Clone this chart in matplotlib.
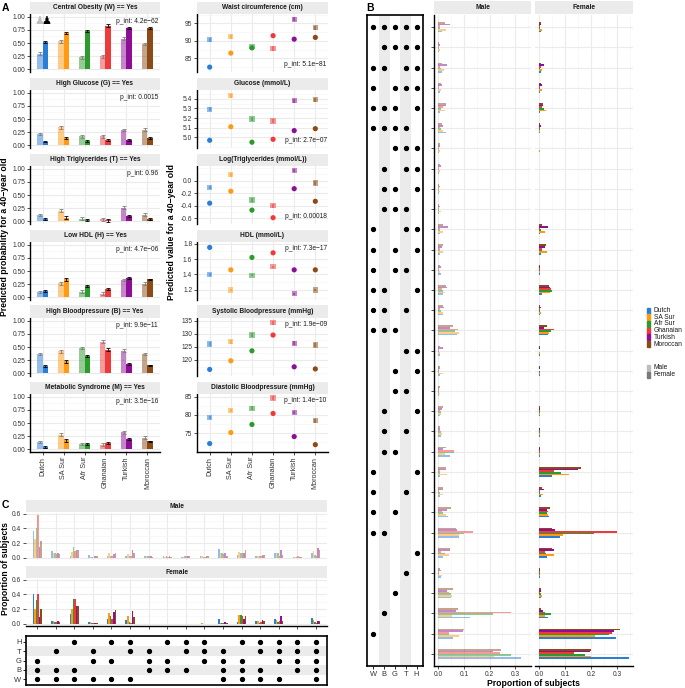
import numpy as np
import matplotlib.pyplot as plt
from matplotlib.patches import Rectangle
from matplotlib.ticker import AutoMinorLocator, MultipleLocator

plt.rcParams['font.family'] = ['Liberation Sans', 'DejaVu Sans']

W, H = 685, 688

groups = ['Dutch', 'SA Sur', 'Afr Sur', 'Ghanaian', 'Turkish', 'Moroccan']
colors = ['#2a7fd4', '#ff9a12', '#2c9a2c', '#ee3a3a', '#8e0f96', '#8b4a16']
components = ['W', 'B', 'G', 'T', 'H']

# ---- panel A, binary outcomes (predicted probability) ----
bin_titles = ['Central Obesity (W) == Yes', 'High Glucose (G) == Yes',
              'High Triglycerides (T) == Yes', 'Low HDL (H) == Yes',
              'High Bloodpressure (B) == Yes', 'Metabolic Syndrome (M) == Yes']
bin_pint = ['4.2e\u221262', '0.0015', '0.96', '4.7e\u221206', '9.9e\u221211', '3.5e\u221216']
bin_male = [[0.30, 0.53, 0.23, 0.25, 0.58, 0.48],
            [0.22, 0.34, 0.17, 0.17, 0.29, 0.30],
            [0.12, 0.20, 0.05, 0.04, 0.26, 0.13],
            [0.11, 0.27, 0.11, 0.07, 0.33, 0.26],
            [0.37, 0.42, 0.48, 0.60, 0.43, 0.37],
            [0.14, 0.28, 0.10, 0.09, 0.32, 0.22]]
bin_female = [[0.52, 0.69, 0.72, 0.83, 0.78, 0.78],
              [0.07, 0.14, 0.08, 0.10, 0.11, 0.14],
              [0.04, 0.07, 0.02, 0.02, 0.10, 0.04],
              [0.12, 0.34, 0.21, 0.16, 0.36, 0.34],
              [0.14, 0.23, 0.33, 0.45, 0.18, 0.15],
              [0.05, 0.17, 0.11, 0.12, 0.19, 0.15]]
bin_err_male = [0.02, 0.03, 0.025, 0.03, 0.025, 0.025]
bin_err_female = [0.015, 0.025, 0.02, 0.025, 0.02, 0.015]

# ---- panel A, continuous outcomes (predicted value) ----
cont_titles = ['Waist circumference (cm)', 'Glucose (mmol/L)', 'Log(Triglycerides (mmol/L))',
               'HDL (mmol/L)', 'Systolic Bloodpressure (mmHg)', 'Diastolic Bloodpressure (mmHg)']
cont_pint = ['5.1e\u221281', '2.7e\u221207', '0.00018', '7.3e\u221217', '1.9e\u221209', '1.4e\u221210']
cont_male = [[90.3, 91.2, 88.3, 87.8, 96.2, 93.8],
             [5.29, 5.43, 5.19, 5.17, 5.38, 5.39],
             [-0.11, 0.09, -0.31, -0.40, 0.16, -0.04],
             [1.40, 1.20, 1.39, 1.50, 1.15, 1.20],
             [126.1, 127.0, 129.5, 134.2, 126.4, 125.7],
             [79.3, 81.2, 81.8, 84.6, 80.7, 78.4]]
cont_female = [[82.5, 86.5, 88.0, 91.5, 90.5, 91.0],
               [4.97, 5.11, 4.95, 4.98, 5.07, 5.09],
               [-0.36, -0.17, -0.47, -0.59, -0.13, -0.33],
               [1.75, 1.46, 1.62, 1.68, 1.46, 1.46],
               [116.4, 119.7, 123.5, 129.5, 117.4, 116.6],
               [72.2, 75.2, 77.4, 80.4, 74.1, 71.9]]
cont_err_male = [0.6, 0.02, 0.03, 0.015, 0.8, 0.5]
cont_err_female = [0.3, 0.01, 0.015, 0.01, 0.4, 0.3]
cont_ticks = [[85, 90, 95], [5.0, 5.1, 5.2, 5.3, 5.4], [-0.6, -0.4, -0.2, 0.0],
              [1.2, 1.4, 1.6, 1.8], [120, 125, 130, 135], [75, 80, 85]]
cont_ylim = [(81.1, 97.7), (4.89, 5.49), (-0.69, 0.23), (1.07, 1.82),
             (113.9, 136.0), (69.9, 85.7)]

# ---- panel B, all combinations ----
b_combos = ['WBGTH', 'BGTH', 'WBTH', 'WGTH', 'WBGH', 'WBGT', 'GTH', 'BTH', 'BGH', 'BGT',
            'WTH', 'WGH', 'WGT', 'WBH', 'WBT', 'WBG', 'TH', 'GH', 'GT', 'BH', 'BT', 'BG',
            'WH', 'WT', 'WG', 'WB', 'H', 'T', 'G', 'B', 'W', '']
b_male = [[0.014, 0.030, 0.005, 0.005, 0.044, 0.027],
          [0.003, 0.005, 0.002, 0.002, 0.006, 0.004],
          [0.014, 0.022, 0.010, 0.005, 0.035, 0.015],
          [0.005, 0.012, 0.004, 0.003, 0.015, 0.012],
          [0.008, 0.027, 0.012, 0.020, 0.030, 0.030],
          [0.028, 0.020, 0.012, 0.008, 0.020, 0.015],
          [0.003, 0.005, 0.002, 0.002, 0.007, 0.006],
          [0.003, 0.005, 0.004, 0.002, 0.010, 0.008],
          [0.004, 0.005, 0.003, 0.002, 0.006, 0.004],
          [0.004, 0.010, 0.003, 0.002, 0.005, 0.004],
          [0.005, 0.020, 0.008, 0.005, 0.037, 0.020],
          [0.005, 0.020, 0.005, 0.005, 0.015, 0.020],
          [0.010, 0.006, 0.004, 0.003, 0.012, 0.008],
          [0.018, 0.025, 0.020, 0.013, 0.035, 0.030],
          [0.020, 0.017, 0.012, 0.006, 0.024, 0.018],
          [0.074, 0.079, 0.064, 0.077, 0.047, 0.058],
          [0.006, 0.005, 0.003, 0.003, 0.018, 0.008],
          [0.005, 0.017, 0.004, 0.003, 0.008, 0.006],
          [0.004, 0.006, 0.002, 0.002, 0.004, 0.005],
          [0.008, 0.012, 0.012, 0.008, 0.015, 0.018],
          [0.010, 0.013, 0.010, 0.006, 0.008, 0.005],
          [0.044, 0.026, 0.063, 0.060, 0.020, 0.031],
          [0.006, 0.032, 0.008, 0.006, 0.030, 0.030],
          [0.007, 0.020, 0.006, 0.004, 0.018, 0.018],
          [0.037, 0.031, 0.017, 0.014, 0.033, 0.048],
          [0.079, 0.080, 0.100, 0.136, 0.073, 0.070],
          [0.020, 0.040, 0.025, 0.010, 0.045, 0.045],
          [0.010, 0.013, 0.004, 0.003, 0.009, 0.007],
          [0.050, 0.052, 0.048, 0.040, 0.035, 0.057],
          [0.125, 0.055, 0.215, 0.283, 0.070, 0.075],
          [0.057, 0.080, 0.040, 0.040, 0.097, 0.100],
          [0.323, 0.216, 0.283, 0.242, 0.212, 0.243]]
b_female = [[0.006, 0.012, 0.004, 0.003, 0.008, 0.008],
            [0.000, 0.000, 0.000, 0.000, 0.000, 0.000],
            [0.005, 0.010, 0.004, 0.005, 0.018, 0.008],
            [0.003, 0.010, 0.004, 0.004, 0.010, 0.008],
            [0.004, 0.027, 0.017, 0.012, 0.015, 0.015],
            [0.004, 0.002, 0.002, 0.002, 0.005, 0.002],
            [0.000, 0.002, 0.000, 0.000, 0.000, 0.000],
            [0.000, 0.000, 0.000, 0.000, 0.000, 0.000],
            [0.000, 0.000, 0.000, 0.000, 0.000, 0.000],
            [0.000, 0.000, 0.000, 0.000, 0.000, 0.000],
            [0.004, 0.020, 0.005, 0.003, 0.032, 0.012],
            [0.005, 0.030, 0.012, 0.010, 0.020, 0.025],
            [0.003, 0.004, 0.002, 0.002, 0.003, 0.002],
            [0.010, 0.040, 0.050, 0.045, 0.042, 0.036],
            [0.004, 0.008, 0.004, 0.003, 0.008, 0.004],
            [0.035, 0.039, 0.045, 0.056, 0.017, 0.030],
            [0.001, 0.001, 0.000, 0.000, 0.003, 0.002],
            [0.002, 0.004, 0.001, 0.000, 0.002, 0.002],
            [0.000, 0.000, 0.000, 0.000, 0.000, 0.000],
            [0.002, 0.003, 0.004, 0.003, 0.004, 0.002],
            [0.001, 0.002, 0.002, 0.001, 0.001, 0.000],
            [0.003, 0.002, 0.003, 0.002, 0.002, 0.002],
            [0.050, 0.115, 0.082, 0.055, 0.150, 0.162],
            [0.008, 0.014, 0.004, 0.003, 0.016, 0.010],
            [0.039, 0.035, 0.030, 0.032, 0.030, 0.042],
            [0.078, 0.093, 0.210, 0.300, 0.060, 0.049],
            [0.030, 0.057, 0.025, 0.022, 0.057, 0.050],
            [0.003, 0.002, 0.001, 0.001, 0.003, 0.002],
            [0.007, 0.012, 0.005, 0.003, 0.006, 0.007],
            [0.035, 0.022, 0.043, 0.022, 0.015, 0.008],
            [0.295, 0.214, 0.270, 0.280, 0.290, 0.310],
            [0.345, 0.200, 0.177, 0.135, 0.195, 0.200]]

# ---- panel C, combinations meeting metabolic syndrome ----
c_combos = ['WBG', 'WBT', 'WBH', 'WGT', 'WGH', 'WTH', 'BGT', 'BGH', 'BTH', 'GTH',
            'WBGT', 'WBGH', 'WBTH', 'WGTH', 'BGTH', 'WBGTH']
c_male = [[0.36, 0.26, 0.41, 0.58, 0.14, 0.23],
          [0.09, 0.06, 0.06, 0.05, 0.07, 0.05],
          [0.03, 0.08, 0.14, 0.09, 0.10, 0.11],
          [0.04, 0.01, 0.01, 0.00, 0.03, 0.03],
          [0.02, 0.07, 0.02, 0.02, 0.05, 0.06],
          [0.03, 0.05, 0.02, 0.03, 0.11, 0.07],
          [0.02, 0.02, 0.03, 0.02, 0.02, 0.01],
          [0.02, 0.01, 0.03, 0.01, 0.02, 0.01],
          [0.01, 0.01, 0.02, 0.02, 0.03, 0.02],
          [0.02, 0.02, 0.01, 0.01, 0.02, 0.02],
          [0.12, 0.06, 0.07, 0.05, 0.06, 0.03],
          [0.04, 0.08, 0.06, 0.07, 0.07, 0.11],
          [0.03, 0.03, 0.02, 0.02, 0.04, 0.04],
          [0.06, 0.07, 0.06, 0.02, 0.10, 0.04],
          [0.01, 0.01, 0.01, 0.02, 0.015, 0.01],
          [0.06, 0.09, 0.04, 0.03, 0.13, 0.10]]
c_female = [[0.40, 0.20, 0.32, 0.41, 0.09, 0.20],
            [0.04, 0.04, 0.02, 0.02, 0.04, 0.02],
            [0.13, 0.20, 0.33, 0.33, 0.24, 0.24],
            [0.03, 0.02, 0.01, 0.01, 0.01, 0.01],
            [0.07, 0.14, 0.10, 0.06, 0.16, 0.19],
            [0.05, 0.10, 0.02, 0.01, 0.18, 0.09],
            [0.00, 0.00, 0.00, 0.00, 0.00, 0.00],
            [0.00, 0.00, 0.00, 0.00, 0.00, 0.00],
            [0.00, 0.00, 0.00, 0.00, 0.00, 0.00],
            [0.00, 0.005, 0.00, 0.00, 0.00, 0.00],
            [0.06, 0.01, 0.01, 0.01, 0.02, 0.01],
            [0.02, 0.12, 0.12, 0.10, 0.07, 0.11],
            [0.04, 0.04, 0.01, 0.02, 0.05, 0.04],
            [0.07, 0.05, 0.03, 0.04, 0.10, 0.04],
            [0.00, 0.00, 0.00, 0.00, 0.00, 0.00],
            [0.08, 0.05, 0.02, 0.01, 0.04, 0.04]]

fig = plt.figure(figsize=(W / 100, H / 100), dpi=100)

GRID = '#ebebeb'
TXT = '#333333'
FS_TICK = 4.8
FS_STRIP = 4.8
FS_TITLE = 6.2


def px_axes(x0, y0, x1, y1):
    return fig.add_axes([x0 / W, 1 - y1 / H, (x1 - x0) / W, (y1 - y0) / H])


def strip(x0, y0, x1, y1, label):
    sa = px_axes(x0, y0, x1, y1)
    sa.set_facecolor(GRID)
    for s in sa.spines.values():
        s.set_visible(False)
    sa.set_xticks([])
    sa.set_yticks([])
    sa.text(0.5, 0.5, label, ha='center', va='center', fontsize=FS_STRIP,
            fontweight='bold', color='#1a1a1a', transform=sa.transAxes)


def style(ax, left=True, bottom=False):
    ax.set_axisbelow(True)
    for s in ax.spines.values():
        s.set_visible(False)
        s.set_linewidth(1.0)
        s.set_color('black')
    ax.spines['left'].set_visible(left)
    ax.spines['bottom'].set_visible(bottom)
    ax.tick_params(which='major', length=2.2, width=0.6, color=TXT, labelsize=FS_TICK,
                   labelcolor=TXT, pad=1.2)
    ax.tick_params(which='minor', length=0)
    ax.grid(True, which='major', color=GRID, lw=0.8)
    ax.grid(True, which='minor', color='#f4f4f4', lw=0.4)


def fig_text(x, y, s, **kw):
    fig.text(x / W, 1 - y / H, s, **kw)


x = np.arange(len(groups))

# ---------------- panel A ----------------
for i in range(6):
    top = 14 + 76 * i
    bot = top + 58
    last = i == 5

    # binary outcomes (left column)
    ax = px_axes(30, top, 160, bot)
    strip(30, top - 12.5, 160, top - 0.5, bin_titles[i])
    style(ax, bottom=last)
    ax.bar(x - 0.125, bin_male[i], width=0.25, color=colors, alpha=0.5)
    ax.bar(x + 0.125, bin_female[i], width=0.25, color=colors)
    ax.errorbar(x - 0.125, bin_male[i], yerr=bin_err_male, fmt='none', ecolor='#7f7f7f',
                elinewidth=0.6, capsize=1.2, capthick=0.6)
    ax.errorbar(x + 0.125, bin_female[i], yerr=bin_err_female, fmt='none', ecolor='black',
                elinewidth=0.6, capsize=1.2, capthick=0.6)
    ax.set_xlim(-0.6, 5.6)
    ax.set_ylim(-0.05, 1.05)
    ax.set_yticks([0, 0.25, 0.5, 0.75, 1.0])
    ax.set_yticklabels(['0.00', '0.25', '0.50', '0.75', '1.00'])
    ax.yaxis.set_minor_locator(AutoMinorLocator(2))
    ax.set_xticks(x)
    if last:
        ax.set_xticklabels(groups, rotation=90, fontsize=5.2)
    else:
        ax.set_xticklabels([])
        ax.tick_params(axis='x', length=0)
    ax.text(0.985, 0.93, 'p_int: ' + bin_pint[i], transform=ax.transAxes,
            ha='right', va='top', fontsize=FS_STRIP, color='#1a1a1a')
    if i == 0:
        ax.text(0.07, 0.97, '\u265F', transform=ax.transAxes, ha='center', va='top',
                fontsize=8, color='#bdbdbd', family='DejaVu Sans')
        ax.text(0.125, 0.97, '\u265F', transform=ax.transAxes, ha='center', va='top',
                fontsize=8, color='black', family='DejaVu Sans')

    # continuous outcomes (right column)
    ax = px_axes(197, top, 328, bot)
    strip(197, top - 12.5, 328, top - 0.5, cont_titles[i])
    style(ax, bottom=last)
    ax.errorbar(x, cont_male[i], yerr=cont_err_male[i], fmt='none', ecolor=colors,
                alpha=0.5, elinewidth=1.5)
    ax.errorbar(x, cont_female[i], yerr=cont_err_female[i], fmt='none', ecolor=colors,
                elinewidth=1.0)
    ax.scatter(x, cont_male[i], marker='s', s=14, c=colors, alpha=0.5, lw=0, zorder=3)
    ax.scatter(x, cont_female[i], marker='o', s=14, c=colors, lw=0, zorder=3)
    ax.set_xlim(-0.6, 5.6)
    t = cont_ticks[i]
    step = t[1] - t[0]
    ax.set_ylim(*cont_ylim[i])
    ax.set_yticks(t)
    ax.set_yticklabels([('%g' % v) if step >= 1 else ('%.1f' % v) for v in t])
    ax.yaxis.set_minor_locator(MultipleLocator(step / 2))
    ax.set_xticks(x)
    if last:
        ax.set_xticklabels(groups, rotation=90, fontsize=5.2)
    else:
        ax.set_xticklabels([])
        ax.tick_params(axis='x', length=0)
    if i < 3:
        ax.text(0.99, 0.07, 'p_int: ' + cont_pint[i], transform=ax.transAxes,
                ha='right', va='bottom', fontsize=FS_STRIP, color='#1a1a1a')
    else:
        ax.text(0.99, 0.95, 'p_int: ' + cont_pint[i], transform=ax.transAxes,
                ha='right', va='top', fontsize=FS_STRIP, color='#1a1a1a')

fig_text(5, 237, 'Predicted probability for a 40\u2212year old', rotation=90,
         ha='center', va='center', fontsize=FS_TITLE, fontweight='bold')
fig_text(171, 232, 'Predicted value for a 40\u2212year old', rotation=90,
         ha='center', va='center', fontsize=FS_TITLE, fontweight='bold')
fig_text(2, 3, 'A', ha='left', va='top', fontsize=7.5, fontweight='bold')

# ---------------- panel B ----------------
nrow = len(b_combos)
rows = np.arange(nrow)
mat = px_axes(367, 15, 423, 666)
for j in (1, 3):
    mat.axvspan(j - 0.5, j + 0.5, color=GRID, lw=0)
for r, combo in enumerate(b_combos):
    for c in combo:
        mat.plot(components.index(c), r, 'o', color='black', ms=2.8)
mat.set_xlim(-0.6, 4.6)
mat.set_ylim(nrow - 0.4, -0.6)
for s in mat.spines.values():
    s.set_color('black')
    s.set_linewidth(1.2)
mat.set_xticks(range(5))
mat.set_xticklabels(components)
mat.set_yticks([])
mat.tick_params(axis='x', length=2.2, width=0.6, labelsize=5.4, labelcolor=TXT, pad=1.2)

bw = 0.5 / len(groups)
for k, (data, x0, x1, name, alpha) in enumerate(
        [(b_male, 434, 531, 'Male', 0.5), (b_female, 535, 633, 'Female', 1.0)]):
    ax = px_axes(x0, 15, x1, 666)
    strip(x0, 1, x1, 14, name)
    style(ax, left=(k == 0), bottom=True)
    vals = np.array(data)
    for g in range(len(groups)):
        ax.barh(rows + 0.25 - (g + 0.5) * bw, vals[:, g], height=bw, color=colors[g],
                alpha=alpha, lw=0)
    ax.set_xlim(-0.017, 0.362)
    ax.set_ylim(nrow - 0.4, -0.6)
    ax.set_yticks(rows)
    ax.set_yticklabels([])
    if k == 1:
        ax.tick_params(axis='y', length=0)
    ax.set_xticks([0, 0.1, 0.2, 0.3])
    ax.set_xticklabels(['0.0', '0.1', '0.2', '0.3'])
    ax.xaxis.set_minor_locator(MultipleLocator(0.05))

fig_text(533, 683, 'Proportion of subjects', ha='center', va='center', fontsize=FS_TITLE,
         fontweight='bold')
fig_text(366, 3, 'B', ha='left', va='top', fontsize=7.5, fontweight='bold')

# legend
for g, name in enumerate(groups):
    yy = 310.5 + g * 6.7
    fig.add_artist(Rectangle((647 / W, 1 - (yy + 3) / H), 2.5 / W, 6 / H,
                             color=colors[g], transform=fig.transFigure))
    fig_text(654, yy, name, ha='left', va='center', fontsize=4.8, color='#1a1a1a')
for g, (name, col) in enumerate([('Male', '#bdbdbd'), ('Female', '#7a7a7a')]):
    yy = 368 + g * 6.7
    fig.add_artist(Rectangle((647 / W, 1 - (yy + 3) / H), 2.5 / W, 6 / H,
                             color=col, transform=fig.transFigure))
    fig_text(654, yy, name, ha='left', va='center', fontsize=4.8, color='#1a1a1a')

# ---------------- panel C ----------------
ncol = len(c_combos)
cols = np.arange(ncol)
for k, (data, top, name, alpha) in enumerate(
        [(c_male, 512.5, 'Male', 0.5), (c_female, 578.5, 'Female', 1.0)]):
    ax = px_axes(26, top, 327, top + 47.5)
    strip(26, top - 12.5, 327, top - 0.5, name)
    style(ax, left=False, bottom=(k == 1))
    vals = np.array(data)
    for g in range(len(groups)):
        ax.bar(cols - 0.25 + (g + 0.5) * bw, vals[:, g], width=bw, color=colors[g],
               alpha=alpha, lw=0)
    ax.set_xlim(-0.6, ncol - 0.4)
    ax.set_ylim(-0.03, 0.615)
    ax.set_yticks([0, 0.2, 0.4, 0.6])
    ax.set_yticklabels(['0.0', '0.2', '0.4', '0.6'])
    ax.yaxis.set_minor_locator(MultipleLocator(0.1))
    ax.set_xticks(cols)
    ax.set_xticklabels([])
    if k == 0:
        ax.tick_params(axis='x', length=0)

cmat = px_axes(26, 636, 327, 685)
c_rows = ['W', 'B', 'G', 'T', 'H']
for j in (1, 3):
    cmat.axhspan(j - 0.5, j + 0.5, color=GRID, lw=0)
for ci, combo in enumerate(c_combos):
    for c in combo:
        cmat.plot(ci, c_rows.index(c), 'o', color='black', ms=2.8)
cmat.set_xlim(-0.6, ncol - 0.4)
cmat.set_ylim(-0.6, 4.6)
for s in cmat.spines.values():
    s.set_color('black')
    s.set_linewidth(1.2)
cmat.set_xticks([])
cmat.set_yticks(range(5))
cmat.set_yticklabels(c_rows)
cmat.tick_params(axis='y', length=2.2, width=0.6, labelsize=5.4, labelcolor=TXT, pad=1.2)

fig_text(6, 569, 'Proportion of subjects', rotation=90, ha='center', va='center',
         fontsize=FS_TITLE, fontweight='bold')
fig_text(2, 500, 'C', ha='left', va='top', fontsize=7.5, fontweight='bold')

fig.savefig('out.png', dpi=100)
